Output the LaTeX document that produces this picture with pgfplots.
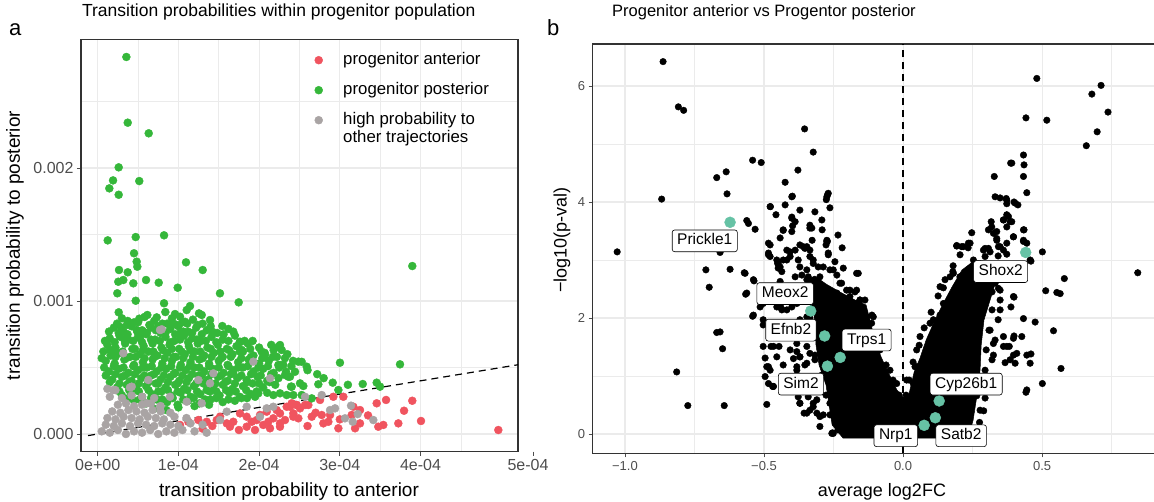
\documentclass[border=0pt]{standalone}
\usepackage{pgfplots}
\pgfplotsset{compat=1.18}
\usepackage{fontspec}
\setmainfont{Liberation Sans}
\definecolor{ant}{HTML}{F0545F}
\definecolor{post}{HTML}{35B73A}
\definecolor{oth}{HTML}{A9A4A4}
\definecolor{hl}{HTML}{66C2A5}
\definecolor{gridc}{HTML}{EBEBEB}
\definecolor{tickc}{HTML}{4D4D4D}
\definecolor{framec}{HTML}{333333}
\tikzset{
  lbl/.style={draw=black, fill=white, rounded corners=2.5pt, line width=0.6pt,
    font=\fontsize{15.5}{15.5}\selectfont, text height=11.5pt, text depth=3.3pt,
    inner xsep=5pt, inner ysep=3.5pt},
}
\pgfplotsset{
  base/.style={
    scale only axis, anchor=south west,
    axis line style={framec, line width=1.1pt},
    tick style={tickc, line width=0.9pt},
    major tick length=4pt, minor tick length=0pt, tick align=outside,
    xtick pos=bottom, ytick pos=left,
    grid=both,
    major grid style={gridc, line width=1.1pt},
    minor grid style={gridc, line width=0.55pt},
  },
}
\begin{document}
\begin{tikzpicture}
\coordinate (PA) at (81pt,50.3pt);
\coordinate (PB) at (592.7pt,48.5pt);
\node[anchor=base west, font=\fontsize{22}{22}\selectfont, inner sep=0pt] at (9pt,466pt) {a};
\node[anchor=base west, font=\fontsize{22}{22}\selectfont, inner sep=0pt] at (547pt,466pt) {b};
% ---------------- panel a ----------------
\begin{axis}[base, at={(PA)}, width=437pt, height=412.4pt,
  xmin=-0.207, xmax=5.208, ymin=-0.133, ymax=2.968,
  xtick={0,1,2,3,4}, xticklabels={0e+00,1e-04,2e-04,3e-04,4e-04},
  ytick={0,1,2}, yticklabels={0.000,0.001,0.002},
  minor xtick={0.5,1.5,2.5,3.5,4.5}, minor ytick={0.5,1.5,2.5},
  ticklabel style={font=\fontsize{16}{16}\selectfont, text=tickc},
  label style={font=\fontsize{19}{19}\selectfont},
  xlabel={transition probability to anterior},
  ylabel={transition probability to posterior},
  xlabel style={at={(axis description cs:0.476,-0.1091)}, anchor=base},
  ylabel style={at={(axis description cs:-0.1396,0.5)}, anchor=base},
  title={Transition probabilities within progenitor population},
  title style={at={(axis description cs:0.002,1.0395)}, anchor=base west, font=\fontsize{17.5}{17.5}\selectfont, inner sep=0pt},
  legend style={at={(axis description cs:0.5344,0.9692)}, anchor=north west, draw=none, fill=none,
    inner sep=0pt, font=\fontsize{16.8}{18}\selectfont,
    nodes={inner sep=0pt, text height=12pt, text depth=4pt},
    /tikz/row sep=14pt, /tikz/column sep=20.5pt},
  legend cell align=left,
]
\addlegendimage{only marks, mark=*, mark size=4pt, ant}
\addlegendentry{progenitor anterior}
\addlegendimage{only marks, mark=*, mark size=4pt, post}
\addlegendentry{progenitor posterior}
\addlegendimage{only marks, mark=*, mark size=4pt, oth}
\addlegendentry{\vtop{\hbox{high probability to}\hbox{other trajectories}}}
% red: progenitor anterior
\addplot[only marks, mark=*, mark size=4pt, ant, forget plot] coordinates {
(2.259,0.155) (2.259,0.080) (2.342,0.205) (2.404,0.231) (2.466,0.218) (2.507,0.193)
(2.424,0.130) (2.486,0.118) (2.569,0.218) (2.610,0.218) (2.652,0.130) (2.755,0.256)
(2.776,0.143) (2.796,0.080) (2.858,0.092) (2.879,0.143) (2.920,0.280) (2.982,0.043)
(3.044,0.280) (3.147,0.143) (3.168,0.205) (3.189,0.043) (3.250,0.180) (3.250,0.080)
(3.457,0.231) (3.477,0.055) (3.539,0.068) (3.573,0.256) (3.725,0.080) (3.796,0.175)
(3.898,0.250) (4.006,0.098) (4.964,0.030)
(1.020,0.068) (1.123,0.092) (1.247,0.105) (1.351,0.092) (1.516,0.130) (1.475,0.105)
(1.599,0.080) (1.639,0.055) (1.680,0.092) (1.763,0.155) (1.846,0.130) (1.908,0.092)
(1.970,0.105) (2.011,0.143) (2.094,0.168) (2.114,0.092) (2.176,0.118) (2.218,0.180)
(2.259,0.055) (2.321,0.105) (2.383,0.205) (2.424,0.155) (2.466,0.218)
(1.846,0.055) (2.052,0.068) (1.949,0.030) (2.135,0.043)
(1.30,0.04) (1.42,0.06) (1.75,0.03) (2.60,0.06) (2.70,0.16) (3.00,0.11) (3.35,0.14)
};
% green: progenitor posterior
\addplot[only marks, mark=*, mark size=4pt, post, forget plot] coordinates {
(0.355,2.835) (0.372,2.341) (0.632,2.261) (0.260,2.005) (0.190,1.907) (0.144,1.847)
(0.515,1.902) (0.260,1.799) (0.124,1.456) (0.471,1.481) (0.822,1.494) (0.450,1.359)
(0.483,1.296) (0.491,1.258) (1.094,1.291) (1.301,1.233) (0.264,1.233) (0.372,1.216)
(0.255,1.145) (0.317,1.158) (0.243,1.058) (0.441,1.133) (0.599,1.158) (0.756,1.138)
(0.991,1.100) (1.515,1.058) (1.747,0.990) (0.471,1.002) (0.822,0.983) (3.898,1.263)
(0.260,0.915) (0.372,0.850) (0.515,0.867) (0.615,0.895) (0.731,0.877) (0.838,0.917)
(0.958,0.902) (1.020,0.882) (1.103,0.932) (1.144,0.962) (1.255,0.907) (1.289,0.895)
(1.392,0.857) (1.544,0.812) (0.289,0.802) (0.276,0.732) (0.338,0.707) (0.152,0.632)
(0.214,0.607) (0.483,0.782) (0.565,0.769) (0.524,0.720) (0.937,0.832) (1.082,0.844)
(1.020,0.757) (1.763,0.694) (1.784,0.632) (2.238,0.656) (2.280,0.632) (2.073,0.594)
(2.238,0.519) (2.486,0.544) (2.333,0.468) (2.383,0.431) (2.395,0.356) (2.507,0.381)
(2.176,0.293) (2.259,0.306) (1.990,0.306) (1.846,0.406) (1.680,0.456)
(2.259,0.519) (2.321,0.444) (2.362,0.431) (2.445,0.468) (2.528,0.543) (2.590,0.506)
(3.002,0.536) (3.746,0.524) (2.404,0.356) (2.548,0.361) (2.734,0.374) (2.912,0.386)
(2.982,0.331) (3.284,0.376) (3.457,0.386) (3.498,0.356) (2.342,0.293) (2.424,0.293)
(2.528,0.293) (2.652,0.268) (2.259,0.669)
(0.30,0.87) (0.45,0.84) (0.58,0.88) (0.70,0.85) (0.80,0.83) (0.92,0.87) (1.05,0.84) (1.18,0.86) (1.30,0.83)
(0.20,0.80) (0.32,0.77) (0.42,0.81) (0.55,0.78) (0.66,0.80) (0.78,0.76) (0.90,0.79) (1.00,0.81) (1.12,0.77) (1.22,0.80) (1.35,0.78) (1.48,0.76) (1.62,0.79)
(0.15,0.72) (0.27,0.74) (0.38,0.71) (0.50,0.73) (0.60,0.75) (0.71,0.71) (0.84,0.73) (0.95,0.70) (1.07,0.74) (1.17,0.72) (1.28,0.70) (1.41,0.73) (1.55,0.71) (1.70,0.74) (1.82,0.70)
(0.12,0.67) (0.22,0.65) (0.34,0.68) (0.46,0.64) (0.57,0.66) (0.68,0.68) (0.79,0.65) (0.89,0.67) (1.01,0.64) (1.13,0.66) (1.24,0.68) (1.36,0.65) (1.49,0.67) (1.60,0.64) (1.72,0.66) (1.86,0.68) (2.00,0.65) (2.15,0.67)
(0.16,0.59) (0.28,0.61) (0.40,0.58) (0.52,0.60) (0.63,0.62) (0.74,0.59) (0.86,0.61) (0.97,0.58) (1.08,0.60) (1.20,0.62) (1.32,0.59) (1.44,0.61) (1.55,0.58) (1.67,0.60) (1.80,0.62) (1.93,0.59) (2.07,0.61) (2.22,0.58) (2.35,0.60)
(0.10,0.55) (0.21,0.53) (0.33,0.56) (0.45,0.52) (0.56,0.54) (0.68,0.56) (0.80,0.53) (0.92,0.55) (1.03,0.52) (1.15,0.54) (1.26,0.56) (1.38,0.53) (1.50,0.55) (1.61,0.52) (1.74,0.54) (1.87,0.56) (2.00,0.53) (2.12,0.55) (2.30,0.52) (2.42,0.55)
(0.14,0.47) (0.26,0.49) (0.38,0.46) (0.50,0.48) (0.61,0.50) (0.73,0.47) (0.85,0.49) (0.96,0.46) (1.09,0.48) (1.20,0.50) (1.32,0.47) (1.43,0.49) (1.56,0.46) (1.68,0.48) (1.80,0.50) (1.93,0.47) (2.05,0.49) (2.18,0.46) (2.60,0.48) (2.72,0.45)
(0.18,0.41) (0.30,0.43) (0.42,0.40) (0.54,0.42) (0.66,0.44) (0.78,0.41) (0.90,0.43) (1.01,0.40) (1.13,0.42) (1.25,0.44) (1.37,0.41) (1.49,0.43) (1.61,0.40) (1.73,0.42) (1.98,0.43) (2.10,0.40) (2.24,0.42) (2.80,0.42)
(0.24,0.35) (0.36,0.37) (0.48,0.34) (0.60,0.36) (0.72,0.38) (0.84,0.35) (0.96,0.37) (1.07,0.34) (1.19,0.36) (1.31,0.38) (1.43,0.35) (1.55,0.37) (1.67,0.34) (1.80,0.36) (1.92,0.38) (2.05,0.35) (2.20,0.37) (3.10,0.37)
(0.30,0.29) (0.42,0.31) (0.55,0.28) (0.67,0.30) (0.79,0.32) (0.91,0.29) (1.03,0.31) (1.15,0.28) (1.27,0.30) (1.39,0.32) (1.51,0.29) (1.63,0.31) (1.76,0.28) (1.90,0.30) (2.10,0.31)
(0.45,0.25) (0.60,0.23) (0.73,0.26) (0.86,0.24) (0.99,0.22) (1.12,0.25) (1.26,0.23) (1.40,0.26) (1.55,0.24) (1.70,0.25) (1.85,0.27)
(0.70,0.19) (0.85,0.18) (1.00,0.20) (1.20,0.21) (1.38,0.22)
(0.24,0.83) (0.36,0.82) (0.50,0.84) (0.64,0.82) (0.75,0.81) (0.86,0.83) (0.98,0.82) (1.11,0.83) (1.24,0.82) (1.40,0.81)
(0.14,0.77) (0.26,0.76) (0.37,0.75) (0.49,0.77) (0.61,0.76) (0.72,0.78) (0.84,0.76) (0.96,0.75) (1.06,0.77) (1.17,0.76) (1.29,0.75) (1.42,0.77) (1.56,0.75) (1.68,0.77)
(0.09,0.70) (0.21,0.69) (0.33,0.71) (0.44,0.70) (0.55,0.69) (0.66,0.71) (0.77,0.70) (0.90,0.69) (1.02,0.71) (1.12,0.69) (1.23,0.71) (1.34,0.70) (1.47,0.69) (1.62,0.70) (1.76,0.69) (1.92,0.70)
(0.07,0.62) (0.19,0.63) (0.31,0.62) (0.43,0.64) (0.56,0.63) (0.69,0.62) (0.81,0.63) (0.92,0.64) (1.04,0.62) (1.15,0.63) (1.27,0.62) (1.40,0.64) (1.52,0.62) (1.63,0.63) (1.76,0.62) (1.89,0.64) (2.03,0.62) (2.18,0.63)
(0.05,0.57) (0.22,0.58) (0.35,0.57) (0.47,0.58) (0.58,0.57) (0.70,0.58) (0.83,0.57) (0.94,0.58) (1.06,0.57) (1.18,0.58) (1.30,0.57) (1.41,0.58) (1.53,0.57) (1.65,0.58) (1.78,0.57) (1.90,0.58) (2.04,0.57) (2.17,0.58) (2.32,0.57)
(0.08,0.50) (0.20,0.51) (0.32,0.50) (0.44,0.51) (0.56,0.50) (0.67,0.51) (0.79,0.50) (0.91,0.51) (1.02,0.50) (1.14,0.51) (1.26,0.50) (1.38,0.51) (1.50,0.50) (1.62,0.51) (1.74,0.50) (1.86,0.51) (1.99,0.50) (2.11,0.51) (2.25,0.50) (2.40,0.51)
(0.10,0.44) (0.22,0.45) (0.34,0.44) (0.46,0.45) (0.58,0.44) (0.70,0.45) (0.82,0.44) (0.94,0.45) (1.05,0.44) (1.17,0.45) (1.29,0.44) (1.41,0.45) (1.53,0.44) (1.65,0.45) (1.78,0.44) (1.90,0.45) (2.02,0.44) (2.15,0.45)
(0.15,0.39) (0.27,0.38) (0.39,0.39) (0.51,0.38) (0.63,0.39) (0.75,0.38) (0.87,0.39) (0.99,0.38) (1.10,0.39) (1.22,0.38) (1.34,0.39) (1.46,0.38) (1.58,0.39) (1.70,0.38) (1.85,0.39) (2.00,0.38) (2.13,0.39)
(0.27,0.32) (0.39,0.33) (0.51,0.32) (0.63,0.33) (0.75,0.32) (0.87,0.33) (0.99,0.32) (1.11,0.33) (1.23,0.32) (1.35,0.33) (1.47,0.32) (1.59,0.33) (1.71,0.32) (1.84,0.33) (1.97,0.32)
(0.38,0.27) (0.52,0.26) (0.66,0.27) (0.80,0.26) (0.93,0.27) (1.06,0.26) (1.19,0.27) (1.33,0.26) (1.47,0.27) (1.62,0.26) (1.78,0.27) (1.95,0.28)
};
% grey: high probability to other trajectories
\addplot[only marks, mark=*, mark size=4pt, oth, forget plot] coordinates {
(0.05,0.02) (0.15,0.01) (0.25,0.03) (0.35,0.00) (0.45,0.02) (0.55,0.01) (0.65,0.03) (0.75,0.00) (0.85,0.02) (0.95,0.01) (1.05,0.03) (1.20,0.02) (1.35,0.01)
(0.10,0.07) (0.20,0.06) (0.30,0.08) (0.40,0.06) (0.50,0.08) (0.60,0.07) (0.70,0.06) (0.80,0.08) (0.90,0.07) (1.00,0.06) (1.15,0.08) (1.30,0.07)
(0.12,0.12) (0.22,0.11) (0.32,0.13) (0.42,0.12) (0.52,0.11) (0.62,0.13) (0.72,0.12) (0.82,0.11) (0.95,0.13) (1.10,0.12)
(0.18,0.17) (0.28,0.16) (0.38,0.18) (0.48,0.17) (0.58,0.16) (0.68,0.18) (0.78,0.17) (0.90,0.16)
(0.25,0.22) (0.35,0.23) (0.45,0.21) (0.55,0.22) (0.66,0.23) (0.78,0.21)
(0.15,0.28) (0.30,0.27) (0.42,0.29) (0.55,0.28) (0.70,0.27)
(0.12,0.34) (0.22,0.33) (0.40,0.35)
(0.317,0.607) (0.793,0.787) (0.627,0.406) (1.247,0.406) (1.433,0.456) (1.392,0.381)
(1.928,0.544) (2.135,0.419) (1.289,0.231) (1.516,0.105) (1.599,0.168) (1.846,0.205)
(2.011,0.130) (2.094,0.193) (2.176,0.205) (0.607,0.231) (0.772,0.205) (0.896,0.280)
(1.103,0.243) (0.193,0.331) (0.421,0.356) (2.569,0.280) (2.776,0.293) (2.879,0.180)
(2.941,0.193) (3.064,0.118) (3.139,0.213) (3.160,0.092) (3.222,0.150) (3.415,0.105)
(0.772,0.782)
};
\addplot[black, line width=1.2pt, dash pattern=on 7pt off 5pt, forget plot] coordinates {(-0.12,-0.012) (5.4,0.54)};
\end{axis}
% odd extra tick of the reference, outside the panel
\draw[tickc, line width=0.9pt] (533pt,50.3pt) -- (533pt,46.3pt);
\node[anchor=north, font=\fontsize{16}{16}\selectfont, text=tickc] at (528pt,46.3pt) {5e-04};
% ---------------- panel b ----------------
\begin{axis}[base, set layers, at={(PB)}, width=572.3pt, height=409.5pt,
  xmin=-1.116, xmax=0.942, ymin=-0.336, ymax=6.724,
  xtick={-1,-0.5,0,0.5}, xticklabels={−1.0,−0.5,0.0,0.5},
  ytick={0,2,4,6}, yticklabels={0,2,4,6},
  minor xtick={-0.75,-0.25,0.25,0.75}, minor ytick={1,3,5},
  ticklabel style={font=\fontsize{13}{13}\selectfont, text=tickc},
  label style={font=\fontsize{18}{18}\selectfont},
  xlabel={average log2FC},
  ylabel={−log10(p-val)},
  xlabel style={at={(axis description cs:0.5055,-0.1055)}, anchor=base},
  ylabel style={at={(axis description cs:-0.0454,0.521)}, anchor=base},
  title={Progenitor anterior vs Progentor posterior},
  title style={at={(axis description cs:0.0337,1.0513)}, anchor=base west, font=\fontsize{16.5}{16.5}\selectfont, inner sep=0pt},
]
\addplot[black, line width=1.2pt, dash pattern=on 7pt off 5pt] coordinates {(0,-0.336) (0,6.724)};
% dense core of the volcano
\addplot[fill=black, draw=black, line width=0.5pt] coordinates {
(-0.216,-0.069) (-0.255,0.155) (-0.266,0.500) (-0.277,0.845) (-0.302,1.190) (-0.313,1.534)
(-0.317,1.879) (-0.324,2.224) (-0.342,2.448) (-0.349,2.655) (-0.317,2.724) (-0.277,2.586)
(-0.227,2.448) (-0.173,2.310) (-0.133,2.224) (-0.119,1.966) (-0.104,1.672) (-0.079,1.328)
(-0.047,1.000) (-0.022,0.759) (0.000,0.638) (0.018,0.621) (0.029,0.845) (0.040,1.069)
(0.061,1.310) (0.083,1.621) (0.115,1.966) (0.147,2.276) (0.176,2.534) (0.212,2.828)
(0.259,3.000) (0.313,2.966) (0.335,2.655) (0.313,2.310) (0.291,1.966) (0.281,1.534)
(0.277,1.103) (0.266,0.672) (0.252,0.241) (0.234,-0.069) (-0.216,-0.069)
};
% individual genes
\addplot[only marks, mark=*, mark size=3.3pt, black] coordinates {
(-0.863,6.42) (-0.808,5.64) (-0.789,5.58) (-0.354,5.26) (-0.323,4.86) (-0.541,4.72)
(-0.510,4.68) (-0.636,4.52) (-0.670,4.42) (-0.633,4.14) (-0.868,4.05) (-0.477,3.92)
(-0.398,4.10) (-0.271,4.13) (-0.276,4.04)
(-1.028,3.14) (-0.562,3.68) (-0.556,3.63) (-0.532,3.53) (-0.400,3.74) (-0.397,3.59)
(-0.431,3.51) (-0.400,3.49) (-0.328,3.55) (-0.272,3.32) (-0.371,3.26) (-0.359,3.23)
(-0.484,3.29) (-0.484,3.12) (-0.478,3.06) (-0.418,3.17) (-0.451,2.94) (-0.436,2.80)
(-0.658,3.13) (-0.709,2.83) (-0.622,2.84) (-0.571,2.78) (-0.536,2.64) (-0.697,2.53)
(-0.566,2.41) (-0.541,2.03) (-0.439,2.18) (-0.670,1.75) (-0.658,1.76) (-0.649,1.47)
(-0.503,1.88) (-0.503,1.51) (-0.475,1.51) (-0.446,1.51) (-0.814,1.07) (-0.484,1.16)
(-0.478,1.10) (-0.431,1.19) (-0.469,0.82) (-0.774,0.49) (-0.643,0.49) (-0.490,0.51)
(-0.371,0.53) (-0.323,0.53) (-0.356,0.36) (-0.254,0.02) (-0.197,0.04) (-0.382,1.42)
(-0.394,1.30) (-0.371,1.33) (-0.335,1.39) (-0.382,1.16) (-0.353,1.19) (-0.317,1.28)
(-0.364,0.84) (-0.335,0.93) (-0.305,0.82) (-0.341,0.64) (-0.310,0.59) (-0.371,2.88)
(-0.323,2.94) (-0.299,2.71) (-0.346,2.66) (-0.251,2.83) (-0.227,2.60) (-0.203,2.48)
(-0.418,2.54) (-0.394,2.40) (-0.371,2.31) (-0.400,2.19) (-0.436,2.14)
(-0.484,3.09) (-0.442,2.88) (-0.418,3.00) (-0.454,3.00) (-0.353,3.20) (-0.335,3.06)
(-0.269,3.09) (-0.274,3.32) (-0.161,2.77) (-0.191,2.48) (-0.167,2.25) (-0.155,2.31)
(-0.107,2.02) (-0.503,1.97) (-0.496,1.31) (-0.382,1.10) (-0.467,0.82) (-0.335,0.41)
(-0.310,0.36) (-0.287,0.33) (-0.256,0.01) (-0.227,0.24) (-0.191,0.04) (0.109,1.97)
(0.133,2.05) (0.049,1.16) (0.073,1.25)
(-0.424,3.95) (-0.371,3.86) (-0.317,3.83) (-0.263,3.90) (-0.388,3.66) (-0.335,3.60)
(-0.291,3.52) (-0.234,3.43) (-0.442,3.38) (-0.327,3.34) (-0.277,3.26) (-0.219,3.21)
(-0.406,3.14) (-0.245,2.97) (-0.424,4.34) (-0.378,4.55) (-0.457,3.78)
(-0.400,4.09) (-0.478,3.92) (-0.400,3.72) (-0.431,3.52) (-0.335,3.55) (-0.292,3.69)
(-0.274,4.09) (-0.269,4.15) (-0.274,3.34) (-0.346,3.23) (-0.335,3.17) (-0.388,3.17)
(-0.478,3.26) (-0.449,2.94) (-0.431,3.00) (-0.406,3.06) (-0.377,3.00) (-0.346,2.83)
(-0.323,3.00) (-0.305,2.88) (-0.269,3.12) (-0.287,2.88) (-0.263,2.83) (-0.238,2.74)
(-0.215,2.86) (-0.167,2.77) (-0.221,2.60) (-0.191,2.37) (-0.238,2.43) (-0.269,2.48)
(-0.292,2.54) (-0.317,2.63) (-0.341,2.71) (-0.364,2.74) (-0.388,2.71) (-0.418,2.54)
(-0.442,2.63) (-0.466,2.51) (-0.449,2.86) (-0.568,2.77) (-0.538,2.66) (-0.562,2.43)
(-0.431,2.48) (-0.514,2.19) (-0.538,2.05) (-0.503,2.25) (-0.478,2.31) (-0.454,2.19)
(-0.418,2.14) (-0.382,2.25) (-0.371,1.97) (-0.395,1.85) (-0.346,2.02) (-0.323,2.19)
(-0.287,2.28) (-0.251,2.31) (-0.227,2.19) (-0.155,2.31) (-0.131,2.02)
(-0.466,1.51) (-0.454,1.33) (-0.490,1.16) (-0.406,1.45) (-0.382,1.56) (-0.346,1.51)
(-0.371,1.33) (-0.346,1.22) (-0.496,0.99) (-0.484,0.87) (-0.466,0.82) (-0.371,0.53)
(-0.346,0.36) (-0.323,0.47) (-0.299,0.30) (-0.263,0.53) (-0.251,0.01) (-0.299,0.13)
(-0.377,0.64) (-0.167,2.48) (-0.143,2.14) (-0.113,1.91) (0.013,0.93) (0.037,0.87)
(-0.023,0.87) (-0.047,1.10)
(0.133,2.54) (0.169,2.71) (0.145,2.25) (0.097,1.91) (0.061,1.68) (0.049,1.45) (0.043,1.16)
(0.481,6.13) (0.712,6.01) (0.679,5.86) (0.737,5.55) (0.698,5.21) (0.659,4.97)
(0.442,5.45) (0.517,5.41) (0.433,4.81) (0.387,4.67) (0.435,4.64) (0.328,4.44)
(0.433,4.44) (0.445,4.16) (0.331,4.09) (0.349,4.07) (0.371,4.06) (0.373,3.97)
(0.399,4.00) (0.413,3.95) (0.317,3.66) (0.319,3.57) (0.361,3.69) (0.379,3.75)
(0.391,3.66) (0.373,3.57) (0.247,3.47) (0.235,3.29) (0.193,3.25) (0.217,3.23)
(0.325,3.46) (0.337,3.34) (0.397,3.40) (0.435,3.52) (0.433,3.32) (0.445,3.29)
(0.295,3.20) (0.313,3.14) (0.343,3.23) (0.361,3.17) (0.373,3.10) (0.501,3.14)
(0.460,2.98) (0.179,2.80) (0.205,2.71) (0.247,2.72) (0.145,2.52) (0.235,2.52)
(0.343,2.51) (0.580,2.68) (0.513,2.47) (0.553,2.44) (0.565,2.42) (0.844,2.78)
(0.399,2.36) (0.388,2.19) (0.349,2.14) (0.167,2.24) (0.199,2.37) (0.217,2.40)
(0.247,2.31) (0.433,1.99) (0.475,1.93) (0.541,1.78) (0.361,1.68) (0.399,1.69)
(0.427,1.68) (0.382,1.51) (0.361,1.51) (0.325,1.36) (0.367,1.23) (0.403,1.22)
(0.397,1.36) (0.460,1.38) (0.568,1.13) (0.501,0.87) (0.442,0.72) (0.265,0.66)
(0.235,0.56) (0.217,0.30) (0.229,0.18)
(0.391,4.67) (0.373,4.03) (0.403,3.98) (0.373,3.78) (0.361,3.69) (0.385,3.66)
(0.307,3.52) (0.337,3.49) (0.337,3.37) (0.397,3.40) (0.433,3.52) (0.433,3.34)
(0.373,3.29) (0.349,3.23) (0.307,3.20) (0.289,3.17) (0.241,3.29) (0.193,3.24)
(0.211,3.23) (0.181,2.77) (0.205,2.71) (0.253,3.00) (0.295,3.06) (0.457,3.00)
(0.325,2.88) (0.361,2.83) (0.397,2.37) (0.397,1.65) (0.373,1.51) (0.409,1.39)
(0.385,1.28) (0.445,1.36) (0.457,1.22) (0.313,1.79) (0.325,1.56) (0.445,0.76)
(0.223,2.66) (0.259,2.57) (0.295,2.69) (0.331,2.60) (0.241,2.40) (0.284,2.34) (0.320,2.45)
(0.342,1.97) (0.331,1.62) (0.320,1.28) (0.306,0.84) (0.295,0.62) (0.290,0.40) (0.275,0.20)
(0.262,0.05) (0.349,2.31)
(0.011,0.67) (0.022,0.93) (0.036,1.24) (0.058,1.53) (0.076,1.83) (0.101,2.10)
(0.126,2.38) (0.151,2.66) (0.180,2.90) (0.205,3.09) (0.234,3.21)
(0.259,0.07) (0.277,0.41) (0.288,0.76) (0.295,1.10) (0.299,1.45) (0.309,1.79)
(0.320,2.14) (0.349,2.48) (0.356,2.79) (0.342,3.07)
(-0.234,0.07) (-0.263,0.33) (-0.277,0.67) (-0.291,1.02) (-0.317,1.36) (-0.327,1.71) (-0.335,2.00)
(-0.014,0.67) (-0.036,0.93) (-0.061,1.19) (-0.083,1.45) (-0.097,1.74) (-0.112,2.05)
(-0.137,2.31) (-0.173,2.45) (-0.011,0.59) (0.007,0.55)
};
% highlighted genes
\addplot[only marks, mark=*, mark size=5.5pt, hl] coordinates {
(-0.622,3.65) (-0.332,2.12) (-0.282,1.69) (-0.272,1.17) (-0.226,1.32)
(0.076,0.15) (0.130,0.57) (0.116,0.28) (0.441,3.13)
};
\begin{pgfonlayer}{axis foreground}
\node[lbl] at (axis cs:-0.713,3.33) {Prickle1};
\node[lbl] at (axis cs:-0.424,2.42) {Meox2};
\node[lbl] at (axis cs:-0.403,1.79) {Efnb2};
\node[lbl] at (axis cs:-0.367,0.86) {Sim2};
\node[lbl] at (axis cs:-0.131,1.62) {Trps1};
\node[lbl] at (axis cs:-0.026,-0.03) {Nrp1};
\node[lbl] at (axis cs:0.227,0.86) {Cyp26b1};
\node[lbl] at (axis cs:0.209,-0.03) {Satb2};
\node[lbl] at (axis cs:0.351,2.80) {Shox2};
\end{pgfonlayer}
\end{axis}
\pgfresetboundingbox
\useasboundingbox (0pt,0pt) rectangle (1154pt,502pt);
\end{tikzpicture}
\end{document}
